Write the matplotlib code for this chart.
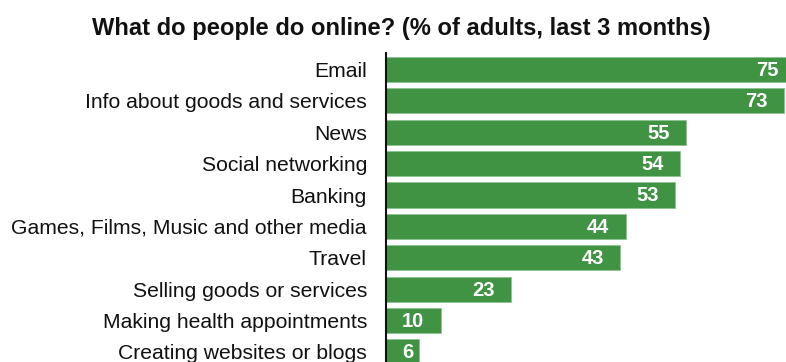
import matplotlib
matplotlib.use("Agg")
import matplotlib.pyplot as plt

categories = [
    "Email",
    "Info about goods and services",
    "News",
    "Social networking",
    "Banking",
    "Games, Films, Music and other media",
    "Travel",
    "Selling goods or services",
    "Making health appointments",
    "Creating websites or blogs",
]
values = [75, 73, 55, 54, 53, 44, 43, 23, 10, 6]
title = "What do people do online? (% of adults, last 3 months)"

plt.rcParams["font.family"] = ["Liberation Sans", "DejaVu Sans"]

fig = plt.figure(figsize=(7.86, 3.62), dpi=100)
ax = fig.add_axes([386 / 786, 0, 400 / 786, 309 / 362])

bar_color = "#3f9343"
ypos = list(range(len(categories)))
ax.barh(ypos, values, height=0.8, color=bar_color, edgecolor="#8cc48f",
        linewidth=0.6)

ax.set_xlim(0, 400 / 5.45)
ax.set_ylim(9.32, -0.525)
ax.set_yticks(ypos)
ax.set_yticklabels(categories, fontsize=15.2, color="#111111")
ax.tick_params(axis="y", length=0, pad=13.7)
ax.set_xticks([])

for side in ("top", "right", "bottom"):
    ax.spines[side].set_visible(False)
ax.spines["left"].set_linewidth(1.5)
ax.spines["left"].set_color("#111111")

for y, v in zip(ypos, values):
    if v >= 8:
        ax.text(v - 3.0, y + 0.03, str(v), ha="right", va="center",
                color="white", fontsize=14.5, fontweight="bold")
    else:
        ax.text(3.0, y + 0.03, str(v), ha="left", va="center",
                color="white", fontsize=14.5, fontweight="bold")

fig.text(401 / 786, 1 - 35 / 362, title, ha="center", va="baseline",
         fontsize=17.1, fontweight="bold", color="#111111")

fig.savefig("out.png", dpi=100)
